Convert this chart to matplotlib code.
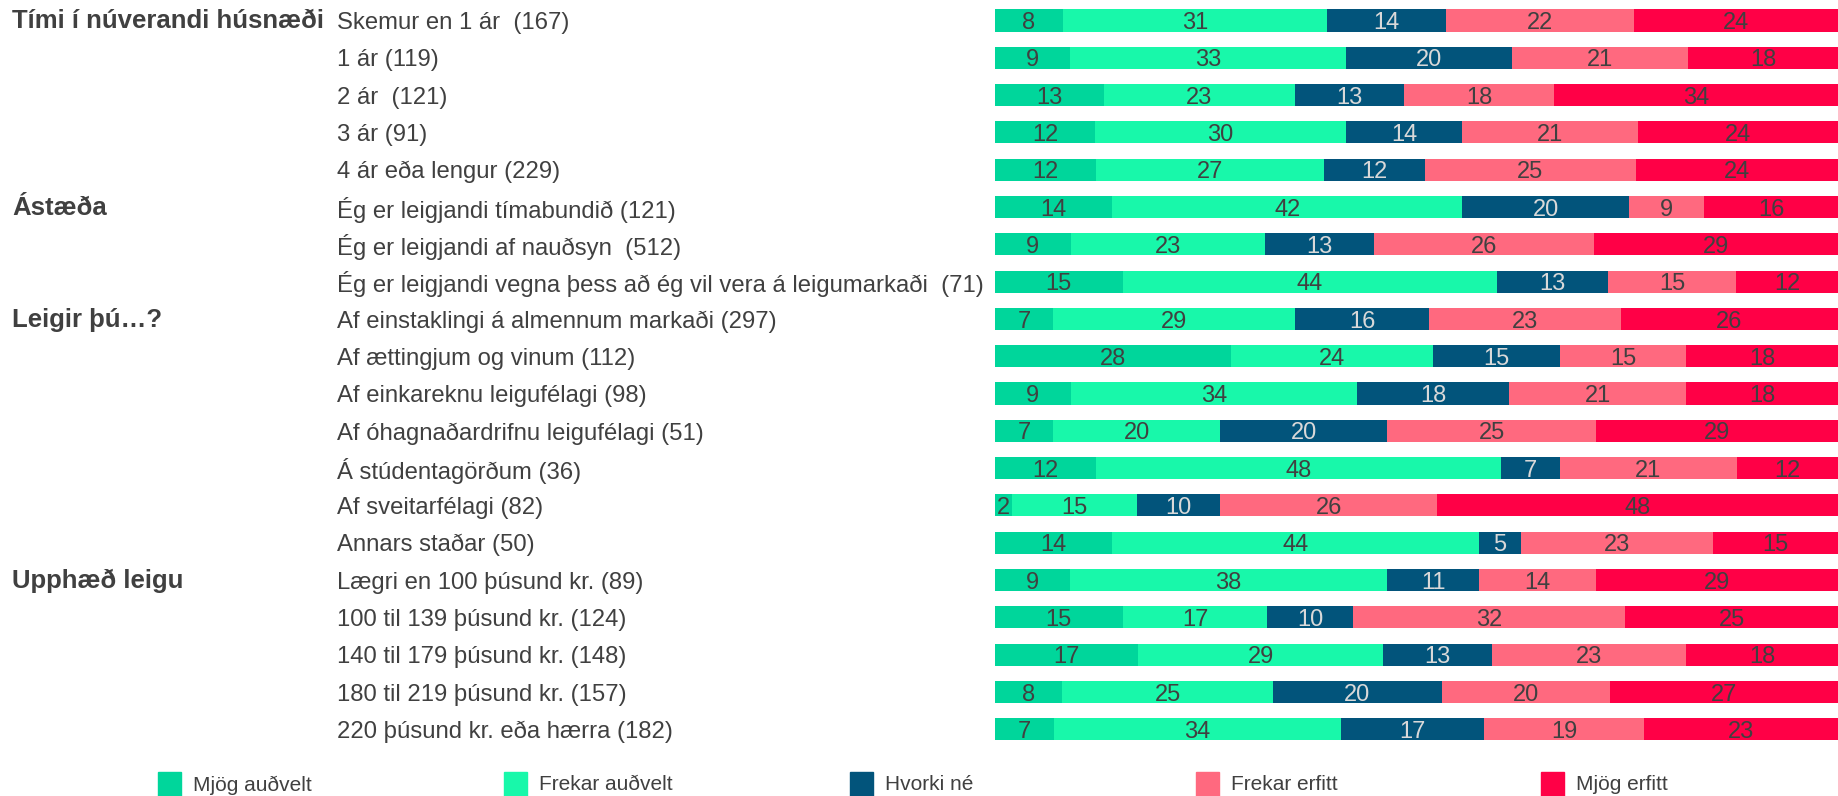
import matplotlib
matplotlib.use("Agg")
import matplotlib.pyplot as plt
import numpy as np
from matplotlib.transforms import blended_transform_factory
from matplotlib.patches import Rectangle

plt.rcParams['font.family'] = ['Liberation Sans', 'DejaVu Sans']

series = ["Mjög auðvelt", "Frekar auðvelt", "Hvorki né", "Frekar erfitt", "Mjög erfitt"]
colors = ["#00D69B", "#18F8AA", "#02547B", "#FF697F", "#FF0046"]
text_colors = ["#404040", "#404040", "#D9D9D9", "#404040", "#404040"]

categories = [
    "Skemur en 1 ár  (167)", "1 ár (119)", "2 ár  (121)", "3 ár (91)", "4 ár eða lengur (229)",
    "Ég er leigjandi tímabundið (121)", "Ég er leigjandi af nauðsyn  (512)",
    "Ég er leigjandi vegna þess að ég vil vera á leigumarkaði  (71)",
    "Af einstaklingi á almennum markaði (297)", "Af ættingjum og vinum (112)",
    "Af einkareknu leigufélagi (98)", "Af óhagnaðardrifnu leigufélagi (51)",
    "Á stúdentagörðum (36)", "Af sveitarfélagi (82)", "Annars staðar (50)",
    "Lægri en 100 þúsund kr. (89)", "100 til 139 þúsund kr. (124)",
    "140 til 179 þúsund kr. (148)", "180 til 219 þúsund kr. (157)",
    "220 þúsund kr. eða hærra (182)",
]

groups = ["Tími í núverandi húsnæði", "Ástæða", "Leigir þú…?", "Upphæð leigu"]
group_rows = [0, 5, 8, 15]

mjog_audvelt = [8, 9, 13, 12, 12, 14, 9, 15, 7, 28, 9, 7, 12, 2, 14, 9, 15, 17, 8, 7]
frekar_audvelt = [31, 33, 23, 30, 27, 42, 23, 44, 29, 24, 34, 20, 48, 15, 44, 38, 17, 29, 25, 34]
hvorki_ne = [14, 20, 13, 14, 12, 20, 13, 13, 16, 15, 18, 20, 7, 10, 5, 11, 10, 13, 20, 17]
frekar_erfitt = [22, 21, 18, 21, 25, 9, 26, 15, 23, 15, 21, 25, 21, 26, 23, 14, 32, 23, 20, 19]
mjog_erfitt = [24, 18, 34, 24, 24, 16, 29, 12, 26, 18, 18, 29, 12, 48, 15, 29, 25, 18, 27, 23]

W, H = 1838, 796
fig = plt.figure(figsize=(W / 100, H / 100), dpi=100)

n = len(categories)
row_top_px = 20.5
row_step_px = 37.3
top_px = row_top_px - row_step_px / 2
bot_px = row_top_px + row_step_px * (n - 1) + row_step_px / 2
left_px = 995
ax = fig.add_axes([left_px / W, 1 - bot_px / H, 1 - left_px / W, (bot_px - top_px) / H])

vals = np.array([mjog_audvelt, frekar_audvelt, hvorki_ne, frekar_erfitt, mjog_erfitt], dtype=float)
totals = vals.sum(axis=0)
pct = vals / totals * 100
y = np.arange(n)
left = np.zeros(n)
for k in range(len(series)):
    ax.barh(y, pct[k], left=left, height=0.59, color=colors[k], edgecolor="none")
    for i in range(n):
        ax.text(left[i] + pct[k][i] / 2, y[i] + 0.07, f"{int(vals[k][i])}", ha="center", va="center",
                fontsize=17, color=text_colors[k])
    left += pct[k]

ax.set_xlim(0, 100)
ax.set_ylim(n - 0.5, -0.5)
ax.axis("off")

tr = blended_transform_factory(fig.transFigure, ax.transData)
for i, c in enumerate(categories):
    ax.text(337 / W, i + 0.07, c, transform=tr, ha="left", va="center", fontsize=17.2, color="#404040")
for g, r in zip(groups, group_rows):
    ax.text(12 / W, r + 0.02, g, transform=tr, ha="left", va="center", fontsize=18.5,
            fontweight="bold", color="#404040")

leg_x = [158, 504, 850, 1196, 1541]
for k in range(len(series)):
    fig.patches.append(Rectangle((leg_x[k] / W, 0), 23 / W, 24 / H, transform=fig.transFigure,
                                 color=colors[k], figure=fig))
    fig.text((leg_x[k] + 35) / W, 1 - 785 / H, series[k], ha="left", va="center",
             fontsize=15, color="#404040")

fig.savefig("out.png", dpi=100)
